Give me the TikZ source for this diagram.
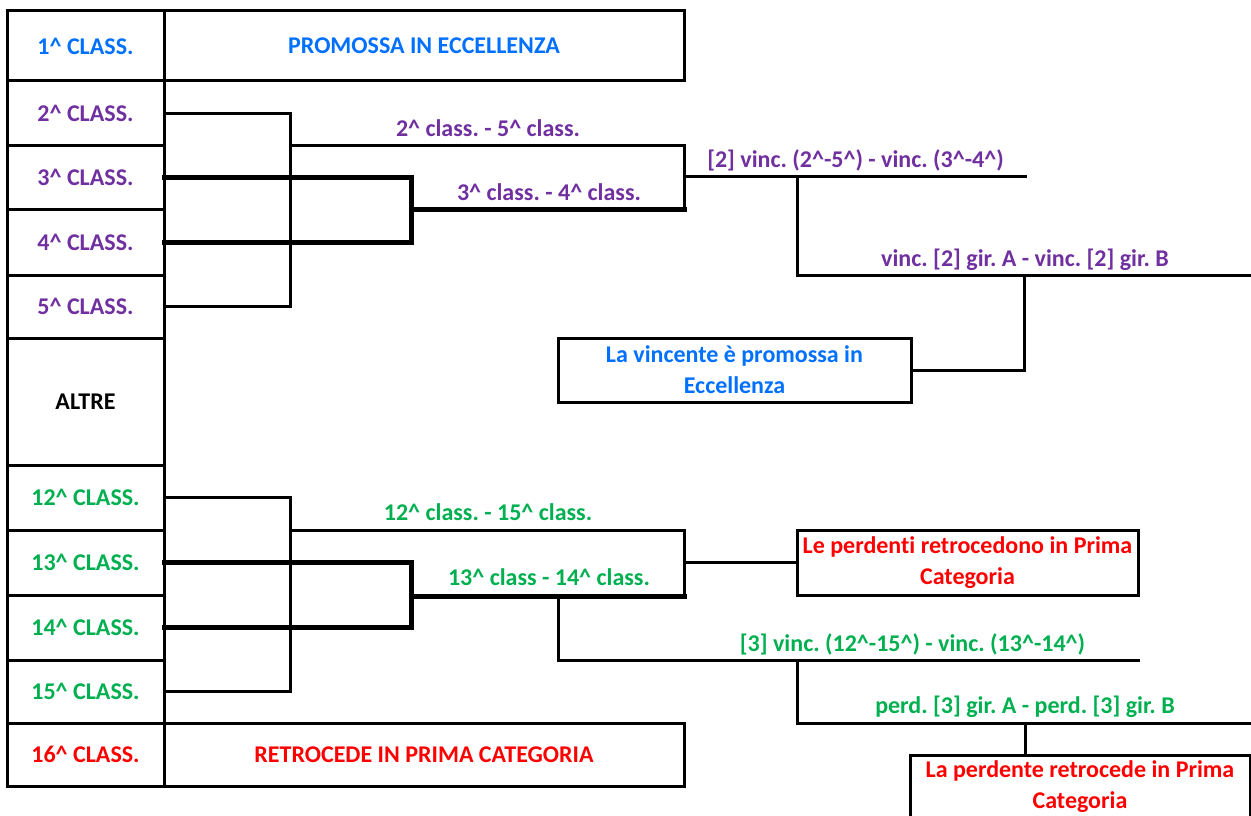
\documentclass[tikz,border=0pt]{standalone}
\usepackage{fontspec}
\setmainfont{Carlito}[Ligatures=NoCommon]
\frenchspacing
\definecolor{cblue}{RGB}{0,112,255}
\definecolor{cpurple}{RGB}{112,48,160}
\definecolor{cgreen}{RGB}{0,176,80}
\definecolor{cred}{RGB}{255,0,0}
\newcommand{\crt}{\textasciicircum}
\begin{document}
\begin{tikzpicture}[x=1pt,y=-1pt,
  txt/.style={font=\bfseries\fontsize{24}{31}\selectfont},
  cell/.style={txt,draw,line width=3pt,inner sep=0pt,outer sep=0pt,minimum width=157pt,align=center},
  wide/.style={txt,draw,line width=3pt,inner sep=0pt,outer sep=0pt,minimum width=520pt,align=center},
  msgbox/.style={txt,draw,line width=3pt,inner sep=0pt,outer sep=0pt,align=center},
  lbl/.style={txt,anchor=base,inner sep=0pt},
  thn/.style={line width=3pt,line cap=rect},
  thk/.style={line width=5pt,line cap=rect}]
\useasboundingbox (0,0) rectangle (1251,816);
% left column
\node[cell,minimum height=70pt,text=cblue]   (c1)  at (85.5,46)    {1\crt{} CLASS.};
\node[cell,minimum height=64pt,text=cpurple] (c2)  at (85.5,113)   {2\crt{} CLASS.};
\node[cell,minimum height=64pt,text=cpurple] (c3)  at (85.5,177)   {3\crt{} CLASS.};
\node[cell,minimum height=66pt,text=cpurple] (c4)  at (85.5,242)   {4\crt{} CLASS.};
\node[cell,minimum height=63pt,text=cpurple] (c5)  at (85.5,306.5) {5\crt{} CLASS.};
\node[cell,minimum height=127pt,text=black]  (alt) at (85.5,401.5) {ALTRE};
\node[cell,minimum height=65pt,text=cgreen]  (c12) at (85.5,497.5) {12\crt{} CLASS.};
\node[cell,minimum height=65pt,text=cgreen]  (c13) at (85.5,562.5) {13\crt{} CLASS.};
\node[cell,minimum height=65pt,text=cgreen]  (c14) at (85.5,627.5) {14\crt{} CLASS.};
\node[cell,minimum height=63pt,text=cgreen]  (c15) at (85.5,691.5) {15\crt{} CLASS.};
\node[cell,minimum height=63pt,text=cred]    (c16) at (85.5,754.5) {16\crt{} CLASS.};
% wide boxes
\node[wide,minimum height=70pt,text=cblue] (p1)  at (424,46)    {PROMOSSA IN ECCELLENZA};
\node[wide,minimum height=63pt,text=cred]  (r16) at (424,754.5) {RETROCEDE IN PRIMA CATEGORIA};
% message boxes
\node[msgbox,minimum width=353pt,minimum height=64pt,text=cblue] (win) at (734.5,370)
  {La vincente è promossa in\\Eccellenza};
\node[msgbox,minimum width=341pt,minimum height=65pt,text=cred] (los) at (967.5,562.5)
  {Le perdenti retrocedono in Prima\\Categoria};
\node[msgbox,minimum width=340pt,minimum height=64pt,text=cred] (lose) at (1080,787)
  {La perdente retrocede in Prima\\Categoria};
% coordinates, upper bracket
\coordinate (k25) at (290,306.5);
\coordinate (m25) at (290,145);
\coordinate (q1) at (684,145);
\coordinate (q2) at (684,209);
\coordinate (k34) at (411,242);
\coordinate (m34) at (411,209);
\coordinate (f1) at (684,176);
\coordinate (e1) at (1025,176);
\coordinate (d1) at (797,176);
\coordinate (d2) at (797,275);
\coordinate (e2) at (1251,275);
\coordinate (g1) at (1024,275);
\coordinate (g2) at (1024,370);
% upper connectors
\draw[thn] (c2.east) -| (k25) -- (c5.east);
\draw[thn] (m25) -- (q1) -- (q2);
\draw[thk] (c3.east) -| (k34) -- (c4.east);
\draw[thk] (m34) -- (q2);
\draw[thn] (f1) -- (e1);
\draw[thn] (d1) -- (d2) -- (e2);
\draw[thn] (g1) -- (g2) -- (win.east);
% coordinates, lower bracket
\coordinate (k1215) at (290,691.5);
\coordinate (m1215) at (290,530);
\coordinate (q3) at (684,530);
\coordinate (q4) at (684,596);
\coordinate (k1314) at (411,627.5);
\coordinate (m1314) at (411,596);
\coordinate (q5) at (684,562.5);
\coordinate (h1) at (558,596);
\coordinate (h2) at (558,660);
\coordinate (h3) at (1138,660);
\coordinate (s1) at (797,660);
\coordinate (s2) at (797,723);
\coordinate (s3) at (1251,723);
\coordinate (t1) at (1025,723);
% lower connectors
\draw[thn] (c12.east) -| (k1215) -- (c15.east);
\draw[thn] (m1215) -- (q3) -- (q4);
\draw[thk] (c13.east) -| (k1314) -- (c14.east);
\draw[thk] (m1314) -- (q4);
\draw[thn] (q5) -- (los.west);
\draw[thn] (h1) -- (h2) -- (h3);
\draw[thn] (s1) -- (s2) -- (s3);
\draw[thn] (t1) -- (t1 |- lose.north);
% labels
\node[lbl,text=cpurple] (l25) at (488,136.5) {2\crt{} class. - 5\crt{} class.};
\node[lbl,text=cpurple] (l34) at (549,200) {3\crt{} class. - 4\crt{} class.};
\node[lbl,text=cpurple] (lf2) at (855.5,167.5) {[2] vinc. (2\crt-5\crt) - vinc. (3\crt-4\crt)};
\node[lbl,text=cpurple] (lg2) at (1025,266.5) {vinc. [2] gir. A - vinc. [2] gir. B};
\node[lbl,text=cgreen] (l1215) at (488,520) {12\crt{} class. - 15\crt{} class.};
\node[lbl,text=cgreen] (l1314) at (549,585) {13\crt{} class - 14\crt{} class.};
\node[lbl,text=cgreen] (lf3) at (912.5,651.5) {[3] vinc. (12\crt-15\crt) - vinc. (13\crt-14\crt)};
\node[lbl,text=cgreen] (lg3) at (1025,713) {perd. [3] gir. A - perd. [3] gir. B};
\end{tikzpicture}
\end{document}
